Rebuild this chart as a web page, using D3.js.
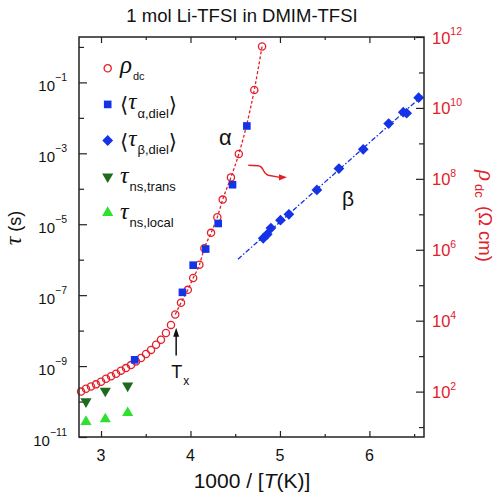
<!DOCTYPE html>
<html><head><meta charset="utf-8">
<script src="https://cdn.jsdelivr.net/npm/d3@7"></script>
<style>body{margin:0;background:#fff} text{font-family:"Liberation Sans",Arial,sans-serif}</style>
</head><body><svg id="c" width="498" height="497"></svg>
<script>
// ---------------- data ----------------
const titleText = "1 mol Li-TFSI in DMIM-TFSI";
// rho_dc (Ohm cm), right axis
const rhoX   = [2.777,2.832,2.888,2.944,3.000,3.056,3.112,3.168,3.223,3.279,3.335,3.391,3.447,3.503,3.559,3.615,3.670,3.726,3.782,3.830,3.894,3.970,4.030,4.100,4.155,4.230,4.300,4.360,4.452,4.540,4.713,4.800];
const rhoVal = [1.0e2,1.2e2,1.4e2,1.6e2,1.9e2,2.3e2,2.7e2,3.2e2,3.9e2,4.6e2,5.6e2,7.1e2,8.9e2,1.15e3,1.5e3,2.1e3,2.9e3,4.5e3,7.6e3,1.5e4,3.2e4,7.4e4,1.6e5,3.8e5,1.1e6,3.0e6,8.3e6,2.6e7,1.1e8,5.0e8,3.2e10,5.4e11];
// <tau_alpha,diel> (s)
const alphaX   = [3.376,3.910,4.030,4.170,4.310,4.470,4.630];
const alphaTau = [1.5e-9,1.2e-7,7.0e-7,2.0e-6,1.05e-5,1.3e-4,5.9e-3];
// <tau_beta,diel> (s)
const betaX   = [4.813,4.858,4.899,5.006,5.100,5.413,5.659,5.931,6.215,6.378,6.416,6.550];
const betaTau = [4.0e-6,5.2e-6,7.8e-6,1.3e-5,1.9e-5,9.3e-5,3.7e-4,1.3e-3,6.9e-3,1.45e-2,1.35e-2,3.7e-2];
// tau_ns,trans and tau_ns,local (s)
const transX   = [2.832,3.048,3.298];
const transTau = [1.0e-10,2.0e-10,2.8e-10];
const localX   = [2.832,3.048,3.298];
const localTau = [2.7e-11,3.2e-11,4.8e-11];
// ticks
const xTicks = [3,4,5,6];
const xMinor = [3.5,4.5,5.5,6.5];
const tauExpMajor = [-11,-9,-7,-5,-3,-1];
const tauExpMinor = [-10,-8,-6,-4,-2,0];
const rhoExpMajor = [2,4,6,8,10,12];
const rhoExpMinor = [1,3,5,7,9,11];
const alphaFitFrom = 3.83;          // dashed line drawn through rho points above this
const betaFitRange = [4.53, 6.61];  // Arrhenius fit line extent

// ---------------- setup ----------------
const RED="#e3202a", BLUE="#1432e6", DKGREEN="#1e6b1e", LTGREEN="#2fe02f", INK="#222";
const svg=d3.select("#c");
const m={l:79,r:424,t:37,b:437};
const x=d3.scaleLinear().domain([2.754,6.61]).range([m.l,m.r]);
const yL=d3.scaleLog().domain([1e-11,Math.pow(10,0.28)]).range([m.b,m.t]);
const yR=d3.scaleLog().domain([Math.pow(10,0.72),1e12]).range([m.b,m.t]);

// title
svg.append("text").attr("x",242).attr("y",22).attr("text-anchor","middle")
  .attr("font-size",18.5).attr("fill","#111").text(titleText);

// ---------------- axes ----------------
function styleAxis(g){ g.select(".domain").remove(); g.selectAll("line").attr("stroke",INK).attr("stroke-width",1.2); }
svg.append("g").attr("transform",`translate(0,${m.b})`).call(d3.axisBottom(x).tickValues(xTicks).tickSize(-6).tickSizeOuter(0).tickFormat("")).call(styleAxis);
svg.append("g").attr("transform",`translate(0,${m.b})`).call(d3.axisBottom(x).tickValues(xMinor).tickSize(-3).tickSizeOuter(0).tickFormat("")).call(styleAxis);
svg.append("g").attr("transform",`translate(0,${m.t})`).call(d3.axisTop(x).tickValues(xTicks).tickSize(-6).tickSizeOuter(0).tickFormat("")).call(styleAxis);
svg.append("g").attr("transform",`translate(0,${m.t})`).call(d3.axisTop(x).tickValues(xMinor).tickSize(-3).tickSizeOuter(0).tickFormat("")).call(styleAxis);
svg.append("g").attr("transform",`translate(${m.l},0)`).call(d3.axisLeft(yL).tickValues(tauExpMajor.map(e=>Math.pow(10,e))).tickSize(-8).tickSizeOuter(0).tickFormat("")).call(styleAxis);
svg.append("g").attr("transform",`translate(${m.l},0)`).call(d3.axisLeft(yL).tickValues(tauExpMinor.map(e=>Math.pow(10,e))).tickSize(-5).tickSizeOuter(0).tickFormat("")).call(styleAxis);
svg.append("g").attr("transform",`translate(${m.r},0)`).call(d3.axisRight(yR).tickValues(rhoExpMajor.map(e=>Math.pow(10,e))).tickSize(-8).tickSizeOuter(0).tickFormat("")).call(styleAxis);
svg.append("g").attr("transform",`translate(${m.r},0)`).call(d3.axisRight(yR).tickValues(rhoExpMinor.map(e=>Math.pow(10,e))).tickSize(-5).tickSizeOuter(0).tickFormat("")).call(styleAxis);

// x tick labels
xTicks.forEach(v=>{
  svg.append("text").attr("x",x(v)).attr("y",461).attr("text-anchor","middle").attr("font-size",16).attr("fill","#111").text(v);
});
// left tick labels
tauExpMajor.forEach(e=>{
  const yy=yL(Math.pow(10,e));
  const t=svg.append("text").attr("x",67).attr("y",yy+9).attr("text-anchor","end").attr("fill","#111");
  t.append("tspan").attr("font-size",15).text("10");
  t.append("tspan").attr("font-size",10.5).attr("dy",-10).text(String(e).replace("-","\u2212"));
});
// right tick labels
rhoExpMajor.forEach(e=>{
  const yy=yR(Math.pow(10,e));
  const t=svg.append("text").attr("x",432).attr("y",yy+6.5).attr("fill",RED);
  t.append("tspan").attr("font-size",16.5).text("10");
  t.append("tspan").attr("font-size",10.5).attr("dy",-8.5).text(e);
});

// axis titles
const xt=svg.append("text").attr("x",252).attr("y",488).attr("text-anchor","middle").attr("font-size",21).attr("fill","#111");
xt.append("tspan").text("1000 / [");
xt.append("tspan").attr("font-style","italic").text("T");
xt.append("tspan").text("(K)]");

const ylab=svg.append("text").attr("transform","translate(21,228) rotate(-90)").attr("text-anchor","middle").attr("fill","#111");
ylab.append("tspan").attr("font-family","Liberation Serif").attr("font-style","italic").attr("font-size",24).text("τ");
ylab.append("tspan").attr("font-size",18).text(" (s)");

const yr=svg.append("text").attr("transform","translate(479,216) rotate(90)").attr("text-anchor","middle").attr("fill",RED);
yr.append("tspan").attr("font-family","Liberation Serif").attr("font-style","italic").attr("font-size",23).text("ρ");
yr.append("tspan").attr("font-size",13).attr("dx",3).attr("dy",4).text("dc");
yr.append("tspan").attr("font-size",18.5).attr("dx",3).attr("dy",-4).text(" (Ω cm)");

// ---------------- lines ----------------
const plot=svg.append("g");
const rhoPts=rhoX.map((v,i)=>[v,rhoVal[i]]);
plot.append("path").datum(rhoPts.filter(d=>d[0]>=alphaFitFrom))
  .attr("d",d3.line().x(d=>x(d[0])).y(d=>yR(d[1])).curve(d3.curveMonotoneX))
  .attr("fill","none").attr("stroke",RED).attr("stroke-width",1.3).attr("stroke-dasharray","3,2");

// linear regression of log10(tau_beta) vs 1000/T
(function(){
  const n=betaX.length, ly=betaTau.map(Math.log10);
  const mx=d3.mean(betaX), my=d3.mean(ly);
  let sxy=0,sxx=0; for(let i=0;i<n;i++){sxy+=(betaX[i]-mx)*(ly[i]-my);sxx+=(betaX[i]-mx)**2;}
  const b=sxy/sxx, a=my-b*mx;
  const pts=betaFitRange.map(v=>[v,Math.pow(10,a+b*v)]);
  plot.append("path").datum(pts).attr("d",d3.line().x(d=>x(d[0])).y(d=>yL(d[1])))
    .attr("fill","none").attr("stroke",BLUE).attr("stroke-width",1.3).attr("stroke-dasharray","5,2,1.5,2");
})();

// ---------------- marks ----------------
plot.selectAll("circle.rho").data(rhoPts).join("circle").attr("class","rho")
  .attr("cx",d=>x(d[0])).attr("cy",d=>yR(d[1])).attr("r",3.6)
  .attr("fill","none").attr("stroke",RED).attr("stroke-width",1.3);

const sq=d3.symbol().type(d3.symbolSquare).size(58);
plot.selectAll("path.alpha").data(alphaX.map((v,i)=>[v,alphaTau[i]])).join("path").attr("class","alpha")
  .attr("d",sq).attr("transform",d=>`translate(${x(d[0])},${yL(d[1])})`).attr("fill",BLUE);

const dia=d3.symbol().type(d3.symbolSquare).size(58);
plot.selectAll("path.beta").data(betaX.map((v,i)=>[v,betaTau[i]])).join("path").attr("class","beta")
  .attr("d",dia).attr("transform",d=>`translate(${x(d[0])},${yL(d[1])}) rotate(45)`).attr("fill",BLUE);

const tri=d3.symbol().type(d3.symbolTriangle).size(54);
plot.selectAll("path.trans").data(transX.map((v,i)=>[v,transTau[i]])).join("path").attr("class","trans")
  .attr("d",tri).attr("transform",d=>`translate(${x(d[0])},${yL(d[1])}) rotate(180)`).attr("fill",DKGREEN);
plot.selectAll("path.local").data(localX.map((v,i)=>[v,localTau[i]])).join("path").attr("class","local")
  .attr("d",tri).attr("transform",d=>`translate(${x(d[0])},${yL(d[1])})`).attr("fill",LTGREEN);

// ---------------- frame ----------------
svg.append("rect").attr("x",m.l).attr("y",m.t).attr("width",m.r-m.l).attr("height",m.b-m.t)
  .attr("fill","none").attr("stroke",INK).attr("stroke-width",1.5);

// ---------------- annotations ----------------
const alphaLbl={x:4.318,tau:1.7e-3}, betaLbl={x:5.693,tau:3.3e-5};
svg.append("text").attr("x",x(alphaLbl.x)).attr("y",yL(alphaLbl.tau)).attr("font-family","Liberation Serif").attr("font-size",22).attr("fill","#111").text("α");
svg.append("text").attr("x",x(betaLbl.x)).attr("y",yL(betaLbl.tau)).attr("font-family","Liberation Serif").attr("font-size",21).attr("fill","#111").text("β");

// T_x arrow
const tx={x:3.84, from:2.0e-9, to:1.2e-8, lbl:4.6e-10};
const ax=x(tx.x), ay0=yL(tx.from), ay1=yL(tx.to);
svg.append("line").attr("x1",ax).attr("x2",ax).attr("y1",ay0).attr("y2",ay1+7).attr("stroke","#111").attr("stroke-width",1.5);
svg.append("path").attr("d",`M${ax},${ay1}L${ax-3},${ay1+9}L${ax+3},${ay1+9}Z`).attr("fill","#111");
const tl=svg.append("text").attr("x",ax-5).attr("y",yL(tx.lbl)).attr("fill","#111");
tl.append("tspan").attr("font-size",18).text("T");
tl.append("tspan").attr("font-size",12).attr("dx",1).attr("dy",7).text("x");

// red squiggle arrow
const sqg={x0:4.646,t0:4.6e-4,x1:5.078,t1:2.1e-4};
const p0=[x(sqg.x0),yL(sqg.t0)], p1=[x(sqg.x1),yL(sqg.t1)];
svg.append("path").attr("d",`M${p0[0]},${p0[1]} L${p0[0]+10},${p0[1]+0.5} C${p0[0]+16},${p0[1]+1} ${p0[0]+14},${p0[1]+8.5} ${p0[0]+20},${p0[1]+10} L${p1[0]-7},${p1[1]}`)
  .attr("fill","none").attr("stroke",RED).attr("stroke-width",1.4);
svg.append("path").attr("d",`M${p1[0]},${p1[1]}L${p1[0]-8},${p1[1]-3.2}L${p1[0]-8},${p1[1]+3.2}Z`).attr("fill",RED);

// ---------------- legend ----------------
const legendSym=["circle","square","diamond","down","up"];
const legendCol=[RED,BLUE,BLUE,DKGREEN,LTGREEN];
const legendMain=["ρ","τ","τ","τ","τ"];
const legendSub=["dc","α,diel","β,diel","ns,trans","ns,local"];
const legendBracket=[false,true,true,false,false];
const lgY0=68.3, lgDy=36.1, lgX=107.7;
legendSym.forEach((s,i)=>{
  const cy=lgY0+i*lgDy;
  const g=svg.append("g").attr("transform",`translate(${lgX},${cy})`);
  if(s==="circle") g.append("circle").attr("r",3.6).attr("fill","none").attr("stroke",legendCol[i]).attr("stroke-width",1.3);
  else if(s==="square") g.append("path").attr("d",sq).attr("fill",legendCol[i]);
  else if(s==="diamond") g.append("path").attr("d",dia).attr("transform","rotate(45)").attr("fill",legendCol[i]);
  else if(s==="down") g.append("path").attr("d",tri).attr("transform","rotate(180)").attr("fill",legendCol[i]);
  else g.append("path").attr("d",tri).attr("fill",legendCol[i]);
  const t=svg.append("text").attr("x",120).attr("y",cy+(i===0?4.5:(i<3?5:6))).attr("fill","#111");
  if(legendBracket[i]) t.append("tspan").attr("font-family","DejaVu Sans").attr("font-size",21).attr("dy",3).text("\u27E8");
  t.append("tspan").attr("font-family","Liberation Serif").attr("font-style","italic")
    .attr("font-size",i===0?25:(i<3?23:24)).attr("dy",legendBracket[i]?-3:0).text(legendMain[i]);
  t.append("tspan").attr("font-size",i===0?11:13).attr("dx",1).attr("dy",i===0?7:8.5).text(legendSub[i]);
  if(legendBracket[i]) t.append("tspan").attr("font-family","DejaVu Sans").attr("font-size",21).attr("dy",-5.5).text("\u27E9");
});
</script></body></html>
